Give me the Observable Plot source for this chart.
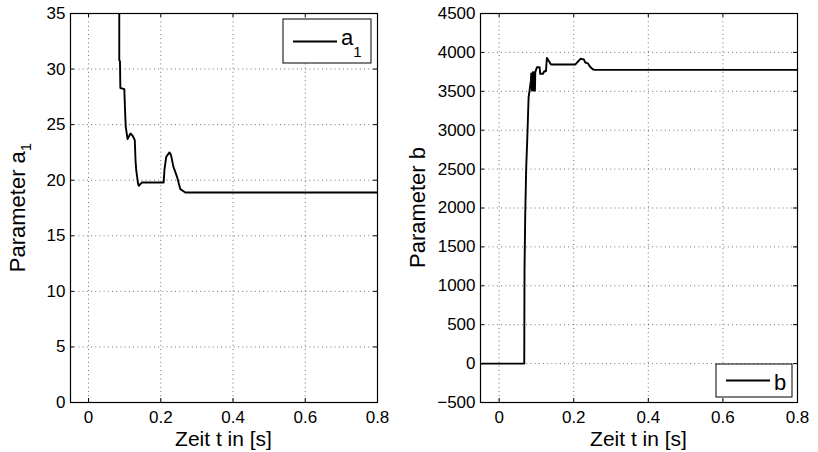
<!DOCTYPE html>
<html><head><meta charset="utf-8">
<script src="https://cdn.jsdelivr.net/npm/d3@7"></script>
<script src="https://cdn.jsdelivr.net/npm/@observablehq/plot@0.6"></script>
<style>
body{margin:0;background:#fff;}
#wrap{position:relative;width:818px;height:452px;display:flex;background:#fff;font-family:"Liberation Sans",Arial,sans-serif;}
svg{display:block;overflow:visible}
</style></head><body><div id="wrap"></div>
<script>
// Parameter a1 over time
const timeA = [0.085, 0.085, 0.087, 0.088, 0.099, 0.101, 0.103, 0.108, 0.116, 0.122, 0.128, 0.130, 0.132, 0.137, 0.139, 0.148, 0.208, 0.210, 0.215, 0.224, 0.228, 0.235, 0.245, 0.254, 0.268, 0.8];
const valuesA = [60, 30.8, 30.7, 28.3, 28.2, 26.3, 24.8, 23.7, 24.2, 24.0, 23.6, 21.8, 20.9, 19.7, 19.5, 19.8, 19.8, 20.9, 22.1, 22.5, 22.3, 21.2, 20.3, 19.2, 18.9, 18.9];
// Parameter b over time
const timeB = [-0.05, 0.0673, 0.068, 0.070, 0.0726, 0.0753, 0.079, 0.0816, 0.0852, 0.0862, 0.088, 0.0906, 0.0924, 0.0935, 0.096, 0.0969, 0.1013, 0.1085, 0.110, 0.1175, 0.121, 0.1255, 0.128, 0.1336, 0.139, 0.2045, 0.218, 0.227, 0.231, 0.2377, 0.2448, 0.252, 0.258, 0.8];
const valuesB = [0, 0, 1200, 1930, 2525, 2870, 3425, 3510, 3640, 3730, 3510, 3746, 3510, 3746, 3510, 3746, 3810, 3810, 3725, 3725, 3758, 3758, 3930, 3887, 3845, 3845, 3918, 3910, 3870, 3860, 3810, 3780, 3776, 3776];
const xTicks = [0, 0.2, 0.4, 0.6, 0.8];
const yTicksA = [0, 5, 10, 15, 20, 25, 30, 35];
const yTicksB = [-500, 0, 500, 1000, 1500, 2000, 2500, 3000, 3500, 4000, 4500];
const xLabel = "Zeit t in [s]";

const H = 452, MT = 13, MB = 50;
const plotH = H - MT - MB;
const TICK = 4;

function panel({width, marginLeft, marginRight, t, v, yDomain, yTicks}) {
  const data = t.map((d, i) => ({t: d, v: v[i]}));
  const plotW = width - marginLeft - marginRight;
  const grid = {stroke: "#000", strokeOpacity: 0.7, strokeWidth: 0.8, strokeDasharray: "1,3.2"};
  return Plot.plot({
    width, height: H, marginLeft, marginRight, marginTop: MT, marginBottom: MB,
    style: {fontSize: "17px", fontFamily: "Liberation Sans, Arial, sans-serif", background: "white", color: "black", overflow: "visible"},
    x: {domain: [-0.05, 0.8], ticks: xTicks, tickSize: 0, tickPadding: 8, tickFormat: d => String(d), label: null},
    y: {domain: yDomain, ticks: yTicks, tickSize: 0, tickPadding: 5, tickFormat: d3.format("d"), label: null},
    marks: [
      Plot.ruleX(xTicks, {x: d => d, ...grid}),
      Plot.ruleY(yTicks, {y: d => d, ...grid}),
      Plot.ruleX(xTicks, {x: d => d, insetTop: plotH - TICK, stroke: "black", strokeWidth: 1}),
      Plot.ruleX(xTicks, {x: d => d, insetBottom: plotH - TICK, stroke: "black", strokeWidth: 1}),
      Plot.ruleY(yTicks, {y: d => d, insetRight: plotW - TICK, stroke: "black", strokeWidth: 1}),
      Plot.ruleY(yTicks, {y: d => d, insetLeft: plotW - TICK, stroke: "black", strokeWidth: 1}),
      Plot.line(data, {x: "t", y: "v", stroke: "black", strokeWidth: 1.9, clip: true}),
      Plot.frame({stroke: "black", strokeWidth: 1.2})
    ]
  });
}

const wrap = document.getElementById("wrap");
const left = panel({width: 400, marginLeft: 70, marginRight: 23, t: timeA, v: valuesA, yDomain: [0, 35], yTicks: yTicksA});
const right = panel({width: 418, marginLeft: 80, marginRight: 21, t: timeB, v: valuesB, yDomain: [-500, 4500], yTicks: yTicksB});
wrap.appendChild(left);
wrap.appendChild(right);

function labels(svg, {cx, ylabel, sub, legend}) {
  const s = d3.select(svg);
  const ff = "Liberation Sans, Arial, sans-serif";
  s.append("text").attr("x", cx).attr("y", 446).attr("text-anchor", "middle")
    .attr("font-size", 21).attr("font-family", ff).attr("fill", "black").text(xLabel);
  const yl = s.append("text").attr("transform", `translate(25,${MT + plotH / 2}) rotate(-90)`)
    .attr("text-anchor", "middle").attr("font-size", 22).attr("font-family", ff).attr("fill", "black");
  yl.append("tspan").text(ylabel);
  if (sub) yl.append("tspan").attr("font-size", 15).attr("dy", 6).text(sub);
  const g = s.append("g");
  g.append("rect").attr("x", legend.x).attr("y", legend.y).attr("width", legend.w).attr("height", legend.h)
    .attr("fill", "white").attr("stroke", "black").attr("stroke-width", 1);
  g.append("line").attr("x1", legend.x + 10).attr("x2", legend.x + 54).attr("y1", legend.ly).attr("y2", legend.ly)
    .attr("stroke", "black").attr("stroke-width", 1.9);
  const lt = g.append("text").attr("x", legend.x + 58).attr("y", legend.ty).attr("font-size", 22)
    .attr("text-anchor", "start").attr("font-family", ff).attr("fill", "black");
  lt.append("tspan").text(legend.text);
  if (legend.sub) lt.append("tspan").attr("font-size", 15).attr("dy", 12).text(legend.sub);
}

labels(left, {cx: 223.5, ylabel: "Parameter a", sub: "1",
  legend: {x: 283, y: 19, w: 88, h: 44, ly: 41.5, ty: 45, text: "a", sub: "1"}});
labels(right, {cx: 238.5, ylabel: "Parameter b", sub: null,
  legend: {x: 316, y: 364, w: 76, h: 33, ly: 380.5, ty: 390, text: "b", sub: null}});
</script></body></html>
